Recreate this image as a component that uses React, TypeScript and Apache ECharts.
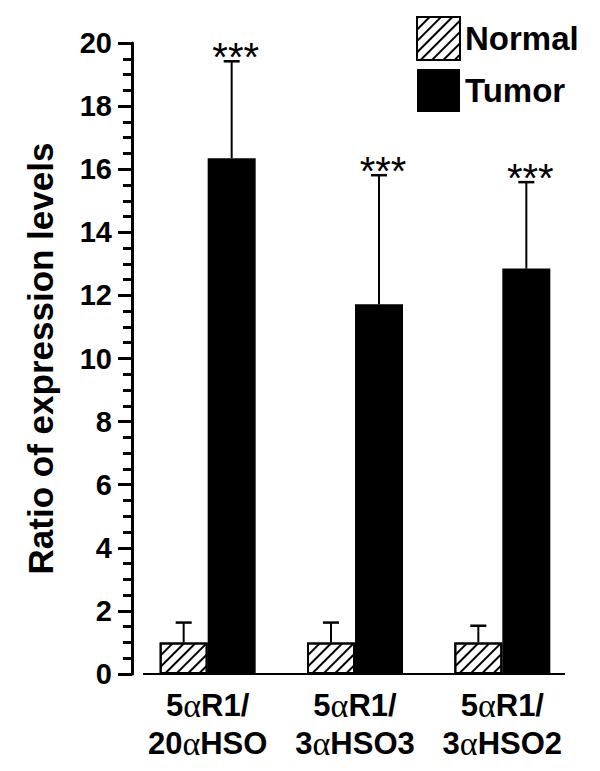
import React, { useEffect, useRef } from "react";
import * as echarts from "echarts";

const categories = ["5αR1/\n20αHSO", "5αR1/\n3αHSO3", "5αR1/\n3αHSO2"];
const seriesNames = ["Normal", "Tumor"];
const normalValues = [1.0, 1.0, 1.0];
const normalUpper = [1.63, 1.63, 1.53];
const tumorValues = [16.35, 11.72, 12.85];
const tumorUpper = [19.42, 15.81, 15.59];
const significance = ["***", "***", "***"];
const yTicks = { min: 0, max: 20, interval: 2 };

const FONT = "'Liberation Sans', Arial, sans-serif";
const BAR_W = 48;

function fmtLabel(value: string) {
  return value
    .split("\n")
    .map((line) =>
      line
        .split("α")
        .map((p) => (p ? `{b|${p}}` : ""))
        .join("{a|α}")
    )
    .join("\n");
}

export default function App() {
  const ref = useRef<HTMLDivElement>(null);
  useEffect(() => {
    if (!ref.current) return;
    const chart = echarts.init(ref.current, null, { renderer: "svg" });
    const errRender = (sign: number, withLabel: boolean) => (params: any, api: any) => {
      const i = api.value(0);
      const base = api.coord([i, api.value(1)]);
      const top = api.coord([i, api.value(2)]);
      const cx = base[0] + (sign * BAR_W) / 2;
      const children: any[] = [
        {
          type: "line",
          shape: { x1: cx, y1: base[1], x2: cx, y2: top[1] },
          style: { stroke: "#000", lineWidth: 2 },
        },
        {
          type: "line",
          shape: { x1: cx - 8, y1: top[1], x2: cx + 8, y2: top[1] },
          style: { stroke: "#000", lineWidth: 2.5 },
        },
      ];
      if (withLabel) {
        children.push({
          type: "text",
          x: cx + 4,
          y: top[1] + 16,
          style: {
            text: significance[params.dataIndex],
            fontSize: 40,
            fontFamily: FONT,
            fill: "#000",
            align: "center",
            verticalAlign: "bottom",
          },
        });
      }
      return { type: "group", children };
    };

    const hatch = {
      symbol: "rect",
      symbolSize: 1,
      color: "#000",
      backgroundColor: "#fff",
      dashArrayX: [1, 0],
      dashArrayY: [1.5, 6],
      rotation: -Math.PI / 4,
    };

    chart.setOption({
      animation: false,
      backgroundColor: "#fff",
      grid: { left: 134, right: 24, top: 43, bottom: 97, containLabel: false },
      legend: {
        data: seriesNames,
        orient: "vertical",
        left: 416,
        top: 16,
        padding: 0,
        itemWidth: 43,
        itemHeight: 43,
        itemGap: 8,
        icon: "rect",
        textStyle: { fontSize: 33, fontWeight: "bold", color: "#000", fontFamily: FONT },
      },
      xAxis: {
        type: "category",
        data: categories,
        axisLine: { show: false },
        axisTick: { show: false },
        axisLabel: {
          margin: 12,
          interval: 0,
          formatter: fmtLabel,
          rich: {
            b: { fontSize: 31, fontWeight: "bold", fontFamily: FONT, color: "#000", lineHeight: 38 },
            a: { fontSize: 34, fontFamily: "'Liberation Serif', serif", color: "#000", lineHeight: 38 },
          },
        },
      },
      yAxis: {
        type: "value",
        min: yTicks.min,
        max: yTicks.max,
        interval: yTicks.interval,
        offset: 2,
        name: "Ratio of expression levels",
        nameLocation: "middle",
        nameGap: 74,
        nameTextStyle: { fontSize: 35, fontWeight: "bold", color: "#000", fontFamily: FONT },
        axisLine: { show: true, lineStyle: { color: "#000", width: 3 } },
        axisTick: { show: true, length: 14, lineStyle: { color: "#000", width: 3 } },
        minorTick: { show: true, splitNumber: 4, length: 9, lineStyle: { color: "#000", width: 3 } },
        splitLine: { show: false },
        axisLabel: { margin: 20, fontSize: 29, fontWeight: "bold", color: "#000", fontFamily: FONT },
      },
      series: [
        {
          name: "Normal",
          type: "bar",
          data: normalValues,
          barWidth: BAR_W,
          barGap: 0,
          itemStyle: { color: "#fff", borderColor: "#000", borderWidth: 2, decal: hatch },
          z: 2,
        },
        {
          name: "Tumor",
          type: "bar",
          data: tumorValues,
          barWidth: BAR_W,
          barGap: 0,
          itemStyle: { color: "#000", borderColor: "#000", borderWidth: 0 },
          z: 2,
        },
        {
          type: "custom",
          name: "errNormal",
          data: normalValues.map((v, i) => [i, v, normalUpper[i]]),
          encode: { x: 0, y: [1, 2] },
          renderItem: errRender(-1, false),
          z: 3,
        },
        {
          type: "custom",
          name: "errTumor",
          data: tumorValues.map((v, i) => [i, v, tumorUpper[i]]),
          encode: { x: 0, y: [1, 2] },
          renderItem: errRender(1, true),
          z: 3,
        },
      ],
      graphic: [
        {
          type: "line",
          shape: { x1: 143, y1: 674, x2: 565, y2: 674 },
          style: { stroke: "#000", lineWidth: 2 },
          z: 10,
        },
      ],
    });
    return () => chart.dispose();
  }, []);
  return (
    <div
      ref={ref}
      style={{ position: "fixed", left: 0, top: 0, width: 600, height: 771, background: "#fff" }}
    />
  );
}
